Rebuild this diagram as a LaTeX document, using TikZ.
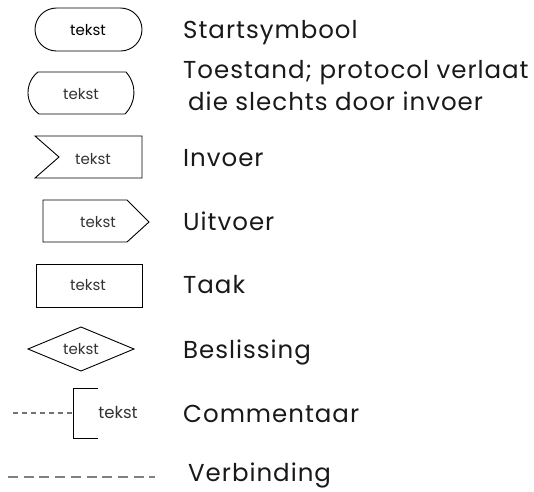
\documentclass[tikz,border=0pt]{standalone}
\usepackage{fontspec}
\setmainfont{Poppins}
\begin{document}
\begin{tikzpicture}[x=1pt,y=-1pt,
  shapeline/.style={draw=black,line width=0.9pt,line join=miter},
  legendtext/.style={anchor=base west,inner sep=0pt,font=\fontsize{24.5}{28}\selectfont\addfontfeatures{LetterSpace=4},text=black!90},
  smalltext/.style={anchor=base,inner sep=0pt,font=\fontsize{15}{17}\selectfont,text=black!80},
  commentdash/.style={draw=black!55,line width=1.1pt,dash pattern=on 5pt off 4pt},
  linkdash/.style={draw=black!50,line width=1.2pt,dash pattern=on 10pt off 5.7pt}]
\useasboundingbox (0,0) rectangle (534,491);

% start symbol (stadium)
\draw[shapeline,rounded corners=21.5pt] (35,8) rectangle (142,51);
\node[smalltext,text=black] (t1) at (88,35) {tekst};
\node[legendtext] (l1) at (183,38) {Startsymbool};

% state
\draw[shapeline] (38,72) -- (126,72) .. controls (137.5,85) and (136,103) .. (125,114)
  -- (39,114) .. controls (24,103) and (25,82) .. (38,72) -- cycle;
\node[smalltext] (t2) at (81,99) {tekst};
\node[legendtext] (l2a) at (183,78) {Toestand; protocol verlaat};
\node[legendtext] (l2b) at (188,110) {die slechts door invoer};

% input
\draw[shapeline] (35,136) -- (142,136) -- (142,178) -- (35,178) -- (59,157) -- cycle;
\node[smalltext] (t3) at (93,164) {tekst};
\node[legendtext] (l3) at (183,166) {Invoer};

% output
\draw[shapeline] (43,200) -- (127,200) -- (149,222) -- (127,242) -- (43,242) -- cycle;
\node[smalltext] (t4) at (98,227) {tekst};
\node[legendtext] (l4) at (183,230) {Uitvoer};

% task
\draw[shapeline] (36,264) rectangle (142,307);
\node[smalltext] (t5) at (88,290) {tekst};
\node[legendtext] (l5) at (183,293) {Taak};

% decision
\draw[shapeline] (28,349) -- (81,327) -- (134,349) -- (81,371) -- cycle;
\node[smalltext] (t6) at (81,354) {tekst};
\node[legendtext] (l6) at (183,358) {Beslissing};

% comment
\coordinate (cfree) at (13,413);
\coordinate (cjoin) at (73,413);
\draw[commentdash] (cfree) -- (cjoin);
\draw[shapeline] (98,388) -- (73,388) -- (73,438) -- (98,438);
\node[smalltext,font=\fontsize{16.5}{18}\selectfont] (t7) at (118,418) {tekst};
\node[legendtext] (l7) at (183,422) {Commentaar};

% connection
\coordinate (va) at (8,477);
\coordinate (vb) at (155,477);
\draw[linkdash] (va) -- (vb);
\node[legendtext] (l8) at (188,481) {Verbinding};
\end{tikzpicture}
\end{document}
